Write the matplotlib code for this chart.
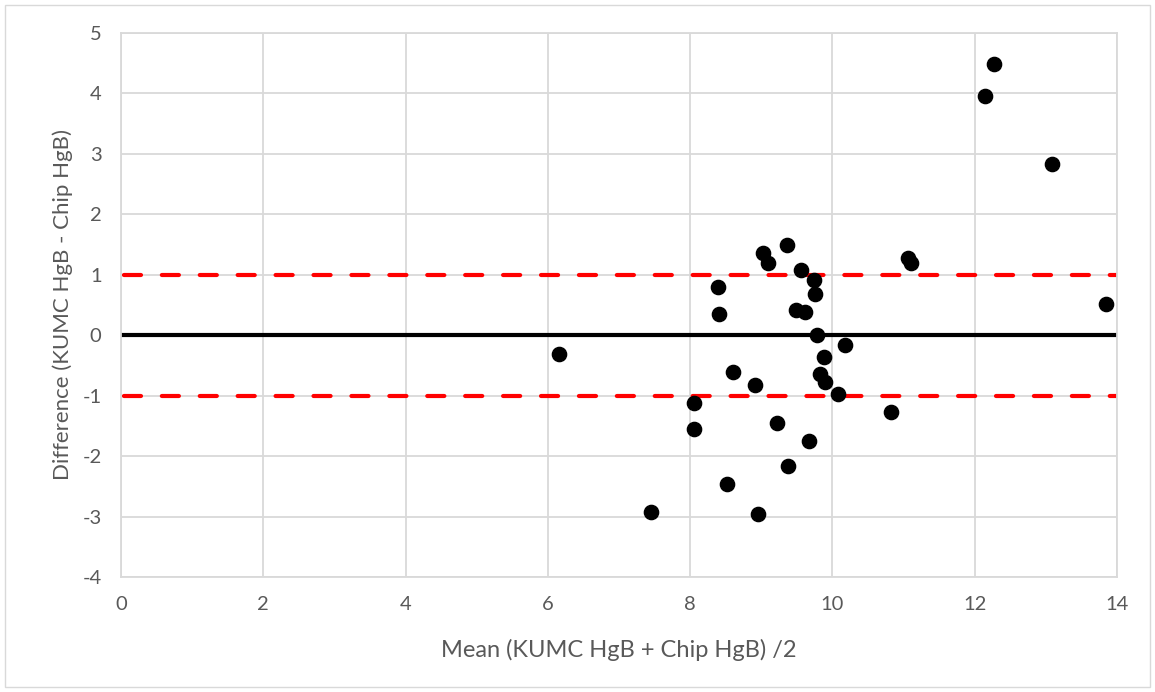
import matplotlib
matplotlib.use("Agg")
import matplotlib.pyplot as plt
from matplotlib.patches import Rectangle

plt.rcParams['font.family'] = ['Lato', 'DejaVu Sans']
plt.rcParams['axes.unicode_minus'] = False

mean_vals = [9.02, 9.09, 9.355, 9.56, 9.74, 9.76, 8.39, 8.41, 9.49, 9.61,
             9.79, 10.18, 9.88, 9.826, 9.89, 10.08, 8.60, 8.91, 8.05, 8.06,
             9.22, 9.67, 9.37, 8.52, 8.96, 7.45,
             12.27, 12.14, 13.09, 11.06, 11.10, 13.85, 10.82, 6.15]
diff_vals = [1.36, 1.20, 1.485, 1.08, 0.91, 0.68, 0.80, 0.355, 0.41, 0.38,
             0.01, -0.16, -0.366, -0.637, -0.78, -0.97, -0.61, -0.83, -1.12, -1.55,
             -1.46, -1.745, -2.17, -2.465, -2.95, -2.93,
             4.49, 3.95, 2.83, 1.28, 1.19, 0.51, -1.27, -0.31]
bias = 0.0
limits = [1.0, -1.0]
x_range = [0, 14]
x_ticks = [0, 2, 4, 6, 8, 10, 12, 14]
y_ticks = [-4, -3, -2, -1, 0, 1, 2, 3, 4, 5]

W, H = 1155, 692
fig = plt.figure(figsize=(W / 100, H / 100), dpi=100)
ax = fig.add_axes([121 / W, 1 - 577 / H, (1117 - 121) / W, (577 - 33) / H])

grid_c = '#d9d9d9'
text_c = '#595959'
ax.set_xlim(x_range)
ax.set_ylim(-4, 5)
ax.set_xticks(x_ticks)
ax.set_yticks(y_ticks)
ax.grid(True, color=grid_c, lw=1.3)
ax.set_axisbelow(True)
for s in ax.spines.values():
    s.set_color(grid_c)
    s.set_linewidth(1.3)
ax.tick_params(axis='x', length=0, labelsize=14.5, labelcolor=text_c, pad=14)
ax.tick_params(axis='y', length=0, labelsize=14.5, labelcolor=text_c, pad=14)

for lim in limits:
    ax.plot(x_range, [lim, lim], color='#ff0000', lw=3, ls=(-0.7, (4.1, 5.0)),
            dash_capstyle='round', solid_capstyle='round', zorder=2)
ax.plot(x_range, [bias, bias], color='black', lw=3, zorder=2)

ax.scatter(mean_vals, diff_vals, s=105, color='black', zorder=3, clip_on=False)

ax.set_xlabel('Mean (KUMC HgB + Chip HgB) /2', fontsize=17, color=text_c, labelpad=18)
ax.set_ylabel('Difference (KUMC HgB - Chip HgB)', fontsize=16, color=text_c, labelpad=7)

fig.patches.append(Rectangle((5 / W, 5 / H), 1 - 10 / W, 1 - 10 / H, transform=fig.transFigure,
                             fill=False, edgecolor='#d9d9d9', lw=1))

fig.savefig('out.png', dpi=100)
